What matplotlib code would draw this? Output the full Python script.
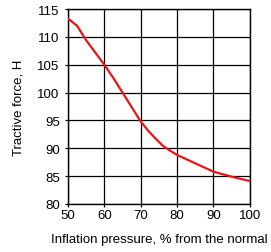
import matplotlib
matplotlib.use("Agg")
import matplotlib.pyplot as plt

plt.rcParams['font.family'] = ['Liberation Sans', 'DejaVu Sans']

# curve
pressure = [50, 52.5, 55, 57.5, 60, 62.5, 65, 67.5, 70, 72, 74, 76, 78, 80, 85, 90, 95, 100]
force = [113.3, 112.0, 109.4, 107.2, 105.0, 102.6, 100.0, 97.4, 94.8, 93.2, 91.8, 90.5, 89.6, 88.8, 87.3, 85.8, 84.9, 84.1]

x_ticks = [50, 60, 70, 80, 90, 100]
y_ticks = [80, 85, 90, 95, 100, 105, 110, 115]

fig = plt.figure(figsize=(2.71, 2.53), dpi=100)
ax = fig.add_axes([0.251, 0.19, 0.671, 0.77])

ax.plot(pressure, force, color='#e8141a', linewidth=1.6, zorder=3)

ax.set_xlim(50, 100)
ax.set_ylim(80, 115)
ax.set_xticks(x_ticks)
ax.set_yticks(y_ticks)
ax.grid(True, color='black', linewidth=0.9)
for s in ax.spines.values():
    s.set_color('black')
    s.set_linewidth(1.0)
ax.tick_params(length=2, width=0.9, labelsize=9.5)
ax.tick_params(axis='y', pad=4)
ax.tick_params(axis='x', pad=2)

ax.set_xlabel('Inflation pressure, % from the normal', fontsize=9.5, labelpad=8)
ax.set_ylabel('Tractive force, H', fontsize=9.5, labelpad=9)

fig.savefig('out.png', dpi=100)
